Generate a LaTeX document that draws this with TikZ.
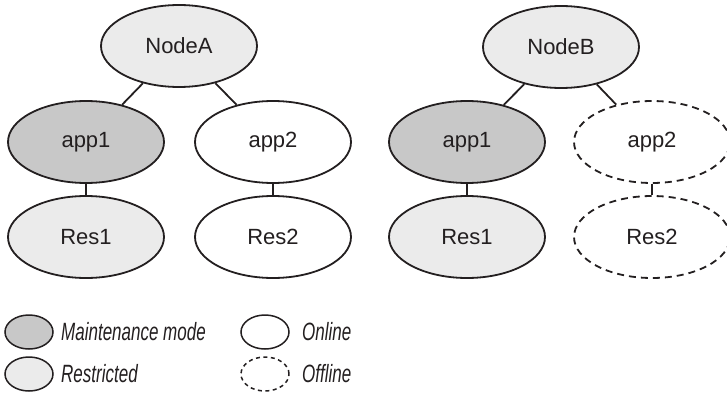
\documentclass[tikz,border=0pt]{standalone}
\usepackage{fontspec}
\setmainfont{Liberation Sans}
\newfontfamily\keyfont[FakeStretch=0.68]{Liberation Sans}
\usetikzlibrary{shapes.geometric}
\definecolor{ink}{HTML}{231F20}
\definecolor{maintgray}{HTML}{C8C8C8}
\definecolor{restrgray}{HTML}{EBEBEB}
\tikzset{
  res/.style={ellipse, draw=ink, line width=1.8pt, text=ink, inner sep=0pt,
    minimum width=156pt, minimum height=82pt,
    font=\fontsize{22}{26}\selectfont},
  maint/.style={res, fill=maintgray},
  restr/.style={res, fill=restrgray},
  online/.style={res, fill=white},
  offline/.style={res, fill=white, dash pattern=on 7pt off 5pt},
  keyshape/.style={minimum width=48pt, minimum height=34pt, line width=1.5pt},
  keytext/.style={anchor=west, text=ink, inner sep=0pt,
    font=\keyfont\itshape\fontsize{25}{29}\selectfont}
}
\begin{document}
\begin{tikzpicture}[x=1pt,y=-1pt]
      \useasboundingbox (0,0) rectangle (727,393);
      \draw
        (179,46) node[restr] (nodeA){NodeA}
        (86,142) node[maint] (appA1){app1}
        (273,142) node[online] (appA2){app2}
        (86,237) node[restr] (resA1){Res1}
        (273,237) node[online] (resA2){Res2}
        (561,47) node[restr] (nodeB){NodeB}
        (467,142) node[maint] (appB1){app1}
        (652,142) node[offline] (appB2){app2}
        (467,237) node[restr] (resB1){Res1}
        (652,237) node[offline] (resB2){Res2};
      \begin{scope}[-, draw=ink, line width=1.8pt]
        \draw (nodeA) to (appA1);
        \draw (nodeA) to (appA2);
        \draw (appA1) to (resA1);
        \draw (appA2) to (resA2);
        \draw (nodeB) to (appB1);
        \draw (nodeB) to (appB2);
        \draw (appB1) to (resB1);
        \draw (appB2) to (resB2);
      \end{scope}
      % legend
      \draw
        (29,332) node[maint, keyshape] (keyMaint){}
        (29,374) node[restr, keyshape] (keyRestr){}
        (265,332) node[online, keyshape] (keyOnline){}
        (265,374) node[offline, keyshape, dash pattern=on 4pt off 3.5pt] (keyOffline){};
      \node[keytext] (txtMaint) at (61,332) {Maintenance mode};
      \node[keytext] (txtRestr) at (61,374) {Restricted};
      \node[keytext] (txtOnline) at (302,332) {Online};
      \node[keytext] (txtOffline) at (302,374) {Offline};
    \end{tikzpicture}
\end{document}
